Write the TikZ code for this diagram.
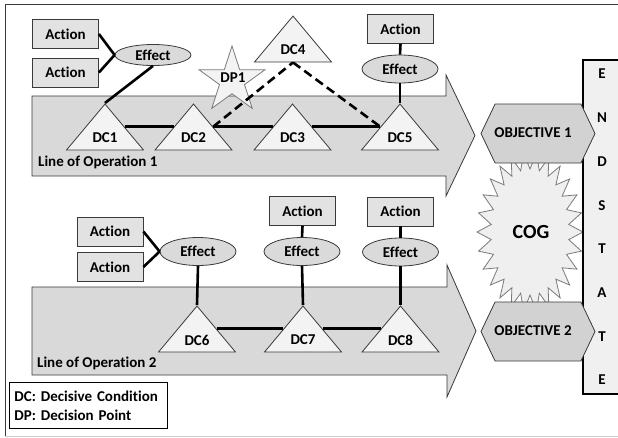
\documentclass[tikz,border=0pt]{standalone}
\usepackage{fontspec}
\setmainfont{Carlito}[Ligatures=CommonOff]
\usetikzlibrary{shapes.geometric,shapes.symbols}
\definecolor{linec}{HTML}{3A3A3A}
\definecolor{arrowfill}{HTML}{D9D9D9}
\definecolor{boxfill}{HTML}{E2E2E2}
\definecolor{efffill}{HTML}{DADADA}
\definecolor{trifill}{HTML}{F3F3F3}
\definecolor{objfill}{HTML}{D2D2D2}
\definecolor{esfill}{HTML}{F0F0F0}
\definecolor{cogfill}{HTML}{EFEFEF}
\definecolor{coglin}{HTML}{7A7A7A}
\begin{document}
\begin{tikzpicture}[x=1pt,y=-1pt,
  txt/.style={font=\bfseries\fontsize{15}{18}\selectfont, inner sep=0pt},
  actbox/.style={txt, draw=linec, fill=boxfill, line width=0.8pt, rectangle, minimum width=66pt, minimum height=29pt},
  effell/.style={txt, draw=linec, fill=efffill, line width=0.8pt, ellipse, minimum width=76pt, minimum height=28pt},
  dctri/.style={isosceles triangle, isosceles triangle stretches, shape border rotate=90, minimum width=77pt, minimum height=46pt, inner sep=0pt, draw=linec, fill=trifill, line width=0.8pt, anchor=apex},
  arrowbody/.style={draw=linec, fill=arrowfill, line width=0.8pt},
  conn/.style={line width=2.6pt, black},
  dashconn/.style={line width=2.6pt, black, dash pattern=on 9pt off 5pt},
  objhex/.style={signal, signal to=west and east, signal pointer angle=129, minimum width=114pt, minimum height=59pt, inner sep=0pt, draw=linec, fill=objfill, line width=0.8pt},
  objtxt/.style={font=\bfseries\fontsize{15}{17}\selectfont, inner sep=0pt}
]
\useasboundingbox (0,0) rectangle (618,437);
% outer frame
\draw[linec, line width=0.8pt] (618,4) -- (5,4) -- (5,436);
\draw[black!20, line width=0.8pt] (5,436) -- (618,436);

% lines of operation (big arrows)
\path[arrowbody] (32,96) -- (446,96) -- (446,75) -- (475,135.5) -- (446,196) -- (446,176) -- (32,176) -- cycle;
\path[arrowbody] (32,287) -- (447,287) -- (447,265) -- (476,331) -- (447,397) -- (447,375) -- (32,375) -- cycle;
\node[txt, anchor=west] (lo1) at (38,162) {Line of Operation 1};
\node[txt, anchor=west] (lo2) at (37,363) {Line of Operation 2};

% centre of gravity
\draw[draw=coglin, fill=cogfill, line width=0.8pt]
  plot[samples at={0,...,51}, variable=\t]
  ({530+ifthenelse(mod(\t,2)==0,53,39)*cos(\t*6.923077)}, {232+ifthenelse(mod(\t,2)==0,80,63)*sin(\t*6.923077)}) -- cycle;
\node[txt, font=\bfseries\fontsize{20}{24}\selectfont] (cog) at (531,232) {COG};

% end state
\node[rectangle, draw=black, fill=esfill, line width=1.6pt, minimum width=42pt, minimum height=334pt, inner sep=0pt] (esbox) at (604,227) {};
\node[txt, align=center, font=\bfseries\fontsize{15}{43.7}\selectfont] (estxt) at (602,227) {E\\N\\D\\S\\T\\A\\T\\E};

% objectives
\node[objhex] (obj1) at (538,133.5) {};
\node[objtxt] (obj1t) at (533,133) {OBJECTIVE 1};
\node[objhex] (obj2) at (538,331.5) {};
\node[objtxt] (obj2t) at (533,331) {OBJECTIVE 2};

% decision point star
\node[star, star points=5, star point ratio=2.618, minimum size=69pt, inner sep=0pt, draw=coglin, fill=trifill, line width=0.8pt] (dp1) at (232,80.5) {};
\node[txt] (dp1t) at (233,78) {DP1};

% decisive conditions, line 1
\node[dctri] (dc1) at (105,103) {};
\node[dctri] (dc2) at (193.5,103) {};
\node[dctri] (dc3) at (292.5,103) {};
\node[dctri] (dc5) at (400,103) {};
\node[dctri] (dc4) at (293,15) {};
\node[txt] (dc1t) at ([yshift=-34.5pt]dc1.apex) {DC1};
\node[txt] (dc2t) at ([yshift=-34.5pt]dc2.apex) {DC2};
\node[txt] (dc3t) at ([yshift=-34.5pt]dc3.apex) {DC3};
\node[txt] (dc5t) at ([yshift=-34.5pt]dc5.apex) {DC5};
\node[txt] (dc4t) at ([yshift=-34.5pt]dc4.apex) {DC4};

% actions / effects, line 1
\node[actbox] (a1) at (65.5,34) {Action};
\node[actbox] (a2) at (65.5,72.5) {Action};
\node[effell, minimum height=21pt] (e1) at (153,55) {Effect};
\node[actbox] (a5) at (400.5,29) {Action};
\node[effell] (e5) at (400,69) {Effect};

% decisive conditions, line 2
\node[dctri] (dc6) at (197,305) {};
\node[dctri] (dc7) at (303,305) {};
\node[dctri] (dc8) at (400.5,305) {};
\node[txt] (dc6t) at ([yshift=-35pt]dc6.apex) {DC6};
\node[txt] (dc7t) at ([yshift=-35pt]dc7.apex) {DC7};
\node[txt] (dc8t) at ([yshift=-35pt]dc8.apex) {DC8};

% actions / effects, line 2
\node[actbox] (a6) at (110,231.5) {Action};
\node[actbox] (a6b) at (110,267) {Action};
\node[effell] (e6) at (198,251.5) {Effect};
\node[actbox] (a7) at (302.5,211) {Action};
\node[effell] (e7) at (302,251.5) {Effect};
\node[actbox] (a8) at (400.5,211.5) {Action};
\node[effell] (e8) at (400.5,252) {Effect};

% connectors, line 1
\draw[conn] (a1.east) -- (e1.west);
\draw[conn] (a2.east) -- (e1.west);
\draw[conn] (e1.south) -- (dc1.apex);
\draw[conn] (dc1.right side) -- (dc2.left side);
\draw[conn] (dc2.right side) -- (dc3.left side);
\draw[conn] (dc3.right side) -- (dc5.left side);
\draw[dashconn] (dc2.right side) -- (dc4.lower side);
\draw[dashconn] (dc4.lower side) -- (dc5.left side);
\draw[conn] (a5.south) -- (e5.north);
\draw[conn] (e5.south) -- (dc5.apex);

% connectors, line 2
\draw[conn] (a6.east) -- (e6.west);
\draw[conn] (a6b.east) -- (e6.west);
\draw[conn] (e6.south) -- (dc6.apex);
\draw[conn] (a7.south) -- (e7.north);
\draw[conn] (e7.south) -- (dc7.apex);
\draw[conn] (a8.south) -- (e8.north);
\draw[conn] (e8.south) -- (dc8.apex);
\draw[conn] (dc6.right side) -- (dc7.left side);
\draw[conn] (dc7.right side) -- (dc8.left side);

% legend
\node[txt, draw=black, line width=0.8pt, anchor=north west, align=left, text width=148pt, inner xsep=5pt, inner ysep=4pt, minimum height=46pt, font=\bfseries\fontsize{15}{19}\selectfont] (legend) at (9,382) {DC: Decisive Condition\\DP: Decision Point};
\end{tikzpicture}
\end{document}
